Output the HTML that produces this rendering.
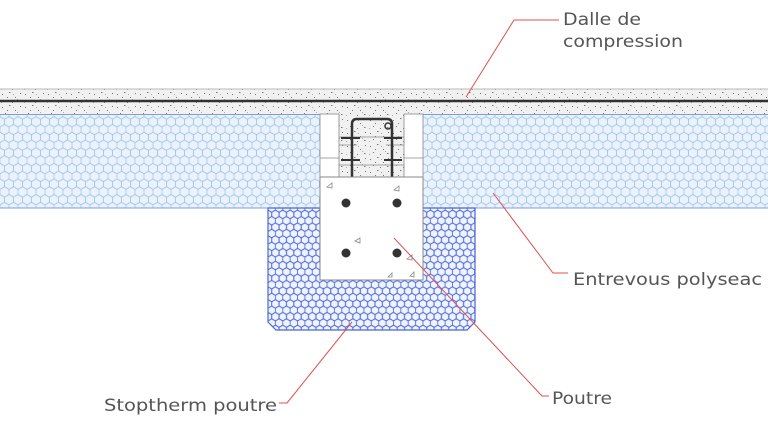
<!DOCTYPE html>
<html><head><meta charset="utf-8"><style>
html,body{margin:0;padding:0;background:#fff;width:768px;height:425px;overflow:hidden}
text{font-family:"DejaVu Sans","Liberation Sans",sans-serif;fill:#555;font-size:17px}
</style></head><body>
<svg width="768" height="425" viewBox="0 0 768 425" xmlns="http://www.w3.org/2000/svg">
<defs>
<path id="hx" d="M0,-5.196 L4.5,-2.598 L4.5,2.598 L0,5.196 L-4.5,2.598 L-4.5,-2.598 Z"/>
<pattern id="hexL" width="9" height="15.588" patternUnits="userSpaceOnUse" patternTransform="translate(0,114)">
<rect width="9" height="15.588" fill="#eaf3fc"/>
<g fill="none" stroke="#a8c6ec" stroke-width="0.8">
<use href="#hx" x="4.5" y="0"/><use href="#hx" x="4.5" y="15.588"/><use href="#hx" x="0" y="7.794"/><use href="#hx" x="9" y="7.794"/>
</g>
</pattern>
<pattern id="hexD" width="9" height="15.588" patternUnits="userSpaceOnUse" patternTransform="translate(268,208) scale(0.82)">
<rect width="9" height="15.588" fill="#eef3ff"/>
<g fill="none" stroke="#4a66d8" stroke-width="1">
<use href="#hx" x="4.5" y="0"/><use href="#hx" x="4.5" y="15.588"/><use href="#hx" x="0" y="7.794"/><use href="#hx" x="9" y="7.794"/>
</g>
</pattern>
<pattern id="spk" width="23" height="13" patternUnits="userSpaceOnUse">
<rect width="23" height="13" fill="#f1f1f1"/>
<g fill="#777"><rect x="2" y="3" width="1" height="1"/><rect x="9" y="1" width="1.5" height="1"/><rect x="15" y="6" width="1" height="1"/><rect x="5" y="9" width="1" height="1"/><rect x="19" y="10" width="1.5" height="1"/><rect x="12" y="11" width="1" height="1"/><rect x="20" y="2" width="1" height="1"/><rect x="7" y="6" width="1" height="1"/></g>
<g fill="#aaa"><rect x="13" y="3" width="1" height="1"/><rect x="1" y="11" width="1" height="1"/><rect x="17" y="8" width="1" height="1"/></g>
</pattern>
</defs>
<rect x="0" y="89" width="768" height="25" fill="url(#spk)"/>
<line x1="0" y1="89" x2="768" y2="89" stroke="#bbb" stroke-width="1"/>
<line x1="0" y1="101" x2="768" y2="101" stroke="#333" stroke-width="2.5"/>
<rect x="0" y="114" width="768" height="94" fill="url(#hexL)"/>
<line x1="0" y1="114.5" x2="768" y2="114.5" stroke="#7e9de0" stroke-width="1"/>
<line x1="0" y1="208" x2="768" y2="208" stroke="#7e9de0" stroke-width="1"/>
<path d="M268,208 H475 V322 L467,330 H276 L268,322 Z" fill="url(#hexD)" stroke="#4a66d8" stroke-width="1.2"/>
<rect x="320" y="114" width="103" height="63" fill="url(#spk)"/>
<rect x="320" y="114" width="19" height="63" fill="#fff" stroke="#888" stroke-width="0.8"/>
<rect x="404" y="114" width="19" height="63" fill="#fff" stroke="#888" stroke-width="0.8"/>
<line x1="320" y1="158" x2="339" y2="158" stroke="#888" stroke-width="0.8"/>
<line x1="404" y1="158" x2="423" y2="158" stroke="#888" stroke-width="0.8"/>
<g stroke="#888" stroke-width="0.8"><line x1="339" y1="137" x2="404" y2="137"/><line x1="339" y1="145" x2="357" y2="145"/><line x1="386" y1="145" x2="404" y2="145"/><line x1="339" y1="165" x2="404" y2="165"/></g>
<path d="M352,177 V124 Q352,119 357,119 H387 Q392,119 392,124 V177" fill="none" stroke="#333" stroke-width="2.5"/>
<g stroke="#333" stroke-width="2"><line x1="341" y1="138" x2="360" y2="138"/><line x1="384" y1="138" x2="402" y2="138"/><line x1="341" y1="160" x2="360" y2="160"/><line x1="384" y1="160" x2="402" y2="160"/></g>
<circle cx="388" cy="126" r="3" fill="none" stroke="#333" stroke-width="1.5"/>
<rect x="320" y="177" width="103" height="103" fill="#fff" stroke="#888" stroke-width="1"/>
<g fill="#333"><circle cx="346" cy="203" r="4.5"/><circle cx="397" cy="203" r="4.5"/><circle cx="346" cy="253" r="4.5"/><circle cx="397" cy="253" r="4.5"/></g>
<g fill="none" stroke="#888" stroke-width="0.8"><path d="M327,187 l5,-4 v5z"/><path d="M394,190 l5,-4 v5z"/><path d="M355,241 l5,-3 v5z"/><path d="M407,259 l5,-4 v5z"/><path d="M388,277 l4,-4 v4z"/><path d="M410,276 l4,-4 v5z"/></g>
<g stroke="#d9534f" stroke-width="1" fill="none">
<polyline points="466,97 514,20 559,20"/>
<polyline points="493,193 553,273 568,273"/>
<polyline points="394,238 542,396 549,396"/>
<polyline points="352,322 287,403 279,403"/>
</g>
<text x="563" y="25" textLength="78" lengthAdjust="spacingAndGlyphs">Dalle de</text>
<text x="563" y="47" textLength="120" lengthAdjust="spacingAndGlyphs">compression</text>
<text x="573" y="285" textLength="189" lengthAdjust="spacingAndGlyphs">Entrevous polyseac</text>
<text x="552" y="404" textLength="60" lengthAdjust="spacingAndGlyphs">Poutre</text>
<text x="104" y="411" textLength="173" lengthAdjust="spacingAndGlyphs">Stoptherm poutre</text>
</svg>
</body></html>
